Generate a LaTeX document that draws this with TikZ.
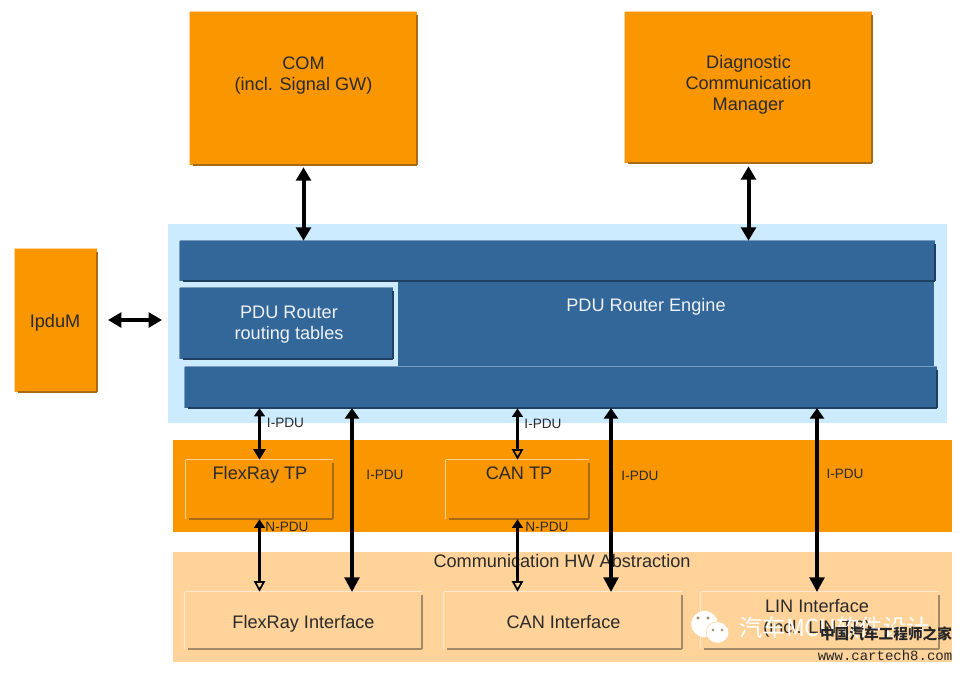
\documentclass[tikz,border=0pt]{standalone}
\usepackage{fontspec}
\setmainfont{Liberation Sans}
\newfontfamily\cjkfont{Noto Sans CJK SC}
\newfontfamily\urlfont{Liberation Mono}
\usetikzlibrary{arrows.meta,shapes.geometric}
\definecolor{mcorange}{HTML}{FA9600}
\definecolor{mcorangedark}{HTML}{A86A14}
\definecolor{mcpale}{HTML}{FFD399}
\definecolor{mcpaledark}{HTML}{A08A68}
\definecolor{mcsky}{HTML}{CCEBFF}
\definecolor{mcblue}{HTML}{336699}
\definecolor{mcbluedark}{HTML}{1F3F60}
\definecolor{mctext}{HTML}{2A2A2A}
\tikzset{
  sized/.style 2 args={inner sep=0pt,minimum width=#1*.75pt,minimum height=#2*.75pt},
  bevel/.style 2 args={append after command={
    (\tikzlastnode.north east) edge[draw=#1,line width=1pt] (\tikzlastnode.north west)
    (\tikzlastnode.north west) edge[draw=#1,line width=1pt] (\tikzlastnode.south west)
    ([xshift=2.5pt]\tikzlastnode.south west) edge[draw=#2,line width=1.6pt] (\tikzlastnode.south east)
    (\tikzlastnode.south east) edge[draw=#2,line width=1.6pt] ([yshift=-2.5pt]\tikzlastnode.north east)}},
  orangebox/.style={fill=mcorange,text=mctext,align=center,font=\fontsize{13.6}{15.8}\selectfont,bevel={mcpale}{mcorangedark}},
  palebox/.style={fill=mcpale,text=mctext,align=center,font=\fontsize{13.6}{15.8}\selectfont,bevel={white!55!mcpale}{mcpaledark}},
  bluebox/.style={fill=mcblue,bevel={white!35!mcblue}{mcbluedark}},
  band/.style={inner sep=0pt},
  boxtext/.style={text=mctext,align=center,font=\fontsize{13.6}{15.8}\selectfont},
  bluetext/.style={text=white!92!mcblue,align=center,font=\fontsize{13.6}{15.8}\selectfont},
  pdutext/.style={text=mctext,font=\fontsize{10.2}{12}\selectfont,inner sep=0pt},
  bigarrow/.style={{Triangle[width=11pt,length=10pt]}-{Triangle[width=11pt,length=10pt]},line width=3pt},
  midarrow/.style={{Triangle[width=10.5pt,length=8pt]}-{Triangle[width=11pt,length=11pt]},line width=2.6pt},
  filledarrow/.style={{Triangle[width=8pt,length=6pt]}-{Triangle[width=9pt,length=8pt]},line width=2.2pt},
  thinarrow/.style={{Triangle[width=8pt,length=6.5pt]}-{Triangle[open,width=8.5pt,length=8pt,line width=1.3pt]},line width=2.2pt}
}
\begin{document}
\begin{tikzpicture}[x=.75pt,y=-.75pt]
\useasboundingbox (0,0) rectangle (963,672);
\node[band,sized={779}{199},fill=mcsky] (routerback) at (557.5,323.5) {};
\node[band,sized={779}{92},fill=mcorange] (tpband) at (562.5,486) {};
\node[band,sized={779}{110},fill=mcpale] (hwband) at (562.5,607) {};
\node[orangebox,sized={227}{153}] (com) at (303.5,88.5) {COM\\(incl. Signal GW)\\[6.7pt]};
\node[orangebox,sized={247}{151}] (dcm) at (748.5,87.5) {Diagnostic\\Communication\\Manager\\[-9pt]};
\node[orangebox,sized={82}{143}] (ipdum) at (56,320.5) {};
\node[boxtext] (ipdumtext) at (55,323) {IpduM};
\node[band,sized={536}{85},fill=mcblue] (engine) at (666,323.5) {};
\node[bluetext] (enginetext) at (646,307) {PDU Router Engine};
\node[bluebox,sized={755}{40}] (topbar) at (557.5,261) {};
\node[bluebox,sized={213}{71}] (tables) at (286.5,323.5) {};
\node[bluetext] (tablestext) at (289,325) {PDU Router\\routing tables};
\node[bluebox,sized={752}{41}] (lowbar) at (561,387.5) {};
\node[orangebox,sized={147}{59}] (frtp) at (259.5,489.5) {};
\node[orangebox,sized={143}{59}] (cantp) at (517.5,489.5) {};
\node[boxtext] (frtptext) at (260,475) {FlexRay TP};
\node[boxtext] (cantptext) at (519,473) {CAN TP};
\node[boxtext] (hwtext) at (562,561) {Communication HW Abstraction};
\node[palebox,sized={237}{57}] (frif) at (303.5,620.5) {};
\node[palebox,sized={238}{57}] (canif) at (563,620.5) {};
\node[palebox,sized={238}{57}] (linif) at (820,620.5) {};
\node[boxtext] (friftext) at (303.5,624) {FlexRay Interface};
\node[boxtext] (caniftext) at (563.5,622) {CAN Interface};
\node[boxtext] (liniftext) at (817,618.5) {LIN Interface\\(incl. LIN TP)};
\coordinate (frup) at (352,408);
\coordinate (frdown) at (352,592);
\coordinate (canup) at (611,408);
\coordinate (candown) at (611,592);
\coordinate (linup) at (817,408);
\coordinate (lindown) at (817,592);
\draw[bigarrow] (com.south) ++(0,2) -- (com.south |- topbar.north);
\draw[bigarrow] (dcm.south) ++(0,3) -- (dcm.south |- topbar.north);
\draw[bigarrow] (108,320) -- (162,320);
\draw[filledarrow] (lowbar.south -| frtp.north) -- (frtp.north);
\draw[thinarrow] (frtp.south) -- (frtp.south |- frif.north);
\draw[thinarrow] (lowbar.south -| cantp.north) -- (cantp.north);
\draw[thinarrow] (cantp.south) -- (cantp.south |- canif.north);
\draw[midarrow] (frup) -- (frdown);
\draw[midarrow] (canup) -- (candown);
\draw[midarrow] (linup) -- (lindown);
\node[pdutext] (ipdu1) at (285.5,423) {I-PDU};
\node[pdutext] (ipdu2) at (385,475) {I-PDU};
\node[pdutext] (ipdu3) at (543,424) {I-PDU};
\node[pdutext] (ipdu4) at (640,476) {I-PDU};
\node[pdutext] (ipdu5) at (845,474) {I-PDU};
\node[pdutext] (npdu1) at (287,527) {N-PDU};
\node[pdutext] (npdu2) at (547,527) {N-PDU};
\node[ellipse,fill=white,inner sep=0pt,minimum width=20pt,minimum height=19.5pt] (bubblea) at (704.5,624) {};
\node[ellipse,fill=white,draw=mcpale,inner sep=0pt,minimum width=17pt,minimum height=16pt] (bubbleb) at (717.5,632.5) {};
\fill[mcpaledark] (698,618) circle (1.2pt) (708,618) circle (1.2pt) (713,630) circle (1pt) (722,630) circle (1pt);
\node[text=white,font=\cjkfont\fontsize{17.5}{20}\selectfont,inner sep=0pt] (mark1) at (834.5,628) {汽车MCU软件设计};
\node[text=black!85,font=\cjkfont\bfseries\fontsize{11}{13}\selectfont,inner sep=0pt] (mark2) at (886,634) {中国汽车工程师之家};
\node[text=black!85,font=\urlfont\fontsize{10.5}{12}\selectfont,inner sep=0pt] (mark3) at (885,655) {www.cartech8.com};
\end{tikzpicture}
\end{document}
